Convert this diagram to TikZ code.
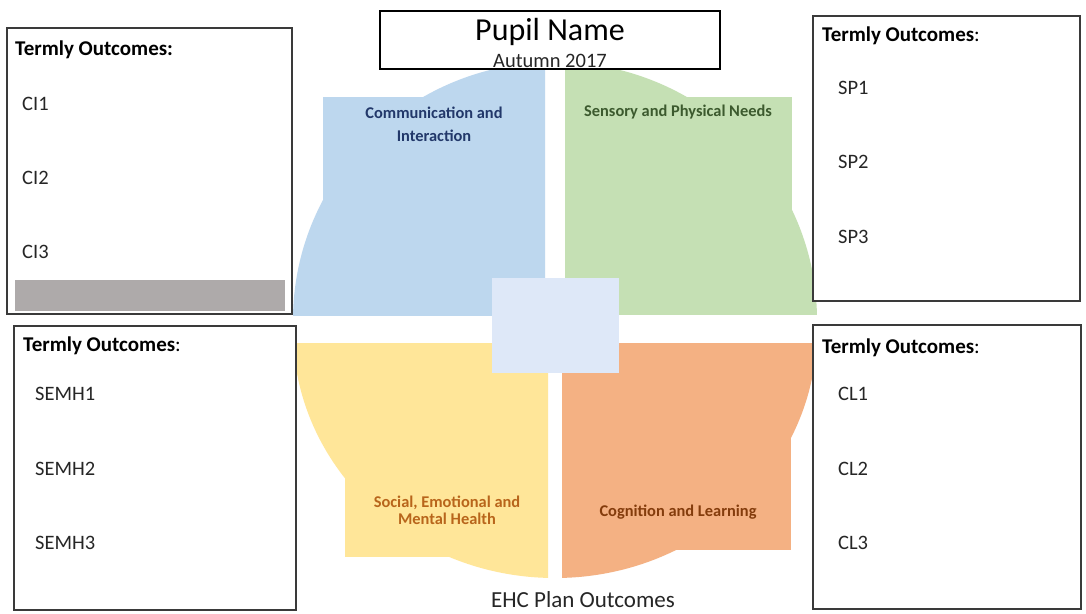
\documentclass[tikz,border=0pt]{standalone}
\usepackage{fontspec}
\setmainfont{Carlito}
\definecolor{qblue}{HTML}{BDD7EE}
\definecolor{qgreen}{HTML}{C5E0B4}
\definecolor{qyellow}{HTML}{FFE699}
\definecolor{qorange}{HTML}{F4B183}
\definecolor{qcenter}{HTML}{DEE8F8}
\definecolor{qgray}{HTML}{AEAAAA}
\definecolor{tblue}{HTML}{22386A}
\definecolor{tgreen}{HTML}{3C5A2E}
\definecolor{tyellow}{HTML}{B8651B}
\definecolor{torange}{HTML}{843C0C}
\definecolor{boxline}{HTML}{3A3A3A}
\begin{document}
\begin{tikzpicture}[x=1pt,y=-1pt,
  outbox/.style={draw=boxline,line width=1.2pt,fill=white},
  head/.style={anchor=west,inner sep=0pt,font=\fontsize{21}{24}\selectfont\bfseries},
  item/.style={anchor=west,inner sep=0pt,font=\fontsize{20.5}{24}\selectfont,text=black!85},
  qlabel/.style={align=center,inner sep=0pt,font=\fontsize{16.4}{23}\selectfont\bfseries}]
\useasboundingbox (0,0) rectangle (1086,613);
\fill[white] (0,0) rectangle (1086,613);
% quadrants
\begin{scope}
\clip (0,0) rectangle (545,315);
\fill[qblue] (555,320) ellipse [x radius=262pt, y radius=258pt];
\fill[qblue] (323,97) rectangle (545,315);
\end{scope}
\begin{scope}
\clip (565,0) rectangle (1086,314);
\fill[qgreen] (555,320) ellipse [x radius=262pt, y radius=258pt];
\fill[qgreen] (565,97) rectangle (792,314);
\end{scope}
\begin{scope}
\clip (0,343) rectangle (548,613);
\fill[qyellow] (555,330) ellipse [x radius=262pt, y radius=248pt];
\fill[qyellow] (345,343) rectangle (548,557);
\end{scope}
\begin{scope}
\clip (562,343) rectangle (1086,613);
\fill[qorange] (555,330) ellipse [x radius=262pt, y radius=248pt];
\fill[qorange] (562,343) rectangle (791,550);
\end{scope}
\fill[qcenter] (492,278) rectangle (619,373);
% quadrant labels
\node[qlabel,text=tblue] (lci) at (434,124) {Communication and\\Interaction};
\node[qlabel,text=tgreen] (lsp) at (678,112) {Sensory and Physical Needs};
\node[qlabel,text=tyellow,font=\fontsize{16.4}{16.7}\selectfont\bfseries] (lsemh) at (447,510) {Social, Emotional and\\Mental Health};
\node[qlabel,text=torange] (lcl) at (678,512) {Cognition and Learning};
% title
\draw[line width=2.4pt,fill=white] (380,11) rectangle (720,69);
\node[inner sep=0pt,font=\fontsize{32}{36}\selectfont] (pname) at (550,32) {Pupil Name};
\node[inner sep=0pt,font=\fontsize{20.5}{24}\selectfont,text=black!85] (term) at (550,61) {Autumn 2017};
% outcome boxes
\draw[outbox] (7,28) rectangle (292,314);
\fill[qgray] (15,280) rectangle (285,311);
\node[head] (h1) at (15,50) {Termly Outcomes:};
\node[item] (ci1) at (22,104) {CI1};
\node[item] (ci2) at (22,178) {CI2};
\node[item] (ci3) at (22,252) {CI3};
\draw[outbox] (813,16) rectangle (1080,301);
\node[head] (h2) at (822,36) {Termly Outcomes\mdseries:};
\node[item] (sp1) at (838,88) {SP1};
\node[item] (sp2) at (838,162) {SP2};
\node[item] (sp3) at (838,237) {SP3};
\draw[outbox] (14,326) rectangle (296,610);
\node[head] (h3) at (23,346) {Termly Outcomes\mdseries:};
\node[item] (s1) at (35,394) {SEMH1};
\node[item] (s2) at (35,469) {SEMH2};
\node[item] (s3) at (35,543) {SEMH3};
\draw[outbox] (813,325) rectangle (1081,609);
\node[head] (h4) at (822,348) {Termly Outcomes\mdseries:};
\node[item] (cl1) at (838,394) {CL1};
\node[item] (cl2) at (838,469) {CL2};
\node[item] (cl3) at (838,543) {CL3};
\node[inner sep=0pt,font=\fontsize{23}{26}\selectfont,text=black!85] (ehc) at (583,600) {EHC Plan Outcomes};
\end{tikzpicture}
\end{document}
